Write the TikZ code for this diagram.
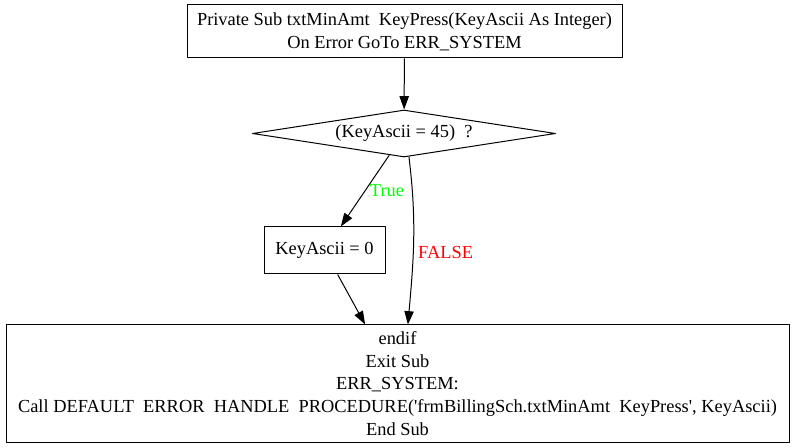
\documentclass[tikz,border=0pt]{standalone}
\usepackage{fontspec}
\setmainfont{Liberation Serif}
\usepackage{tikz}
\usetikzlibrary{shapes.geometric,arrows.meta}

\begin{document}
\begin{tikzpicture}[x=0.75pt, y=-0.75pt, line join=round,
    font=\fontsize{13.8}{17}\selectfont,
    box/.style={draw, line width=0.75pt, align=center, inner sep=0pt},
    test/.style={draw, line width=0.75pt, diamond, shape aspect=6.4, inner sep=0pt},
    flow/.style={line width=0.75pt, -{Triangle[length=10pt,width=7pt]}}]
    \useasboundingbox (0,0) rectangle (795,448);

    % --- blocks ---
    \node[box, minimum width=326.25pt, minimum height=39.75pt] (head) at (404.5,31.5)
      {Private Sub txtMinAmt~ KeyPress(KeyAscii As Integer)\\On Error GoTo ERR\_SYSTEM};
    \node[test, minimum width=227.25pt, minimum height=35.25pt] (cond) at (404,133.5)
      {(KeyAscii = 45)~ ?};
    \node[box, minimum width=90.75pt, minimum height=35.25pt] (zero) at (324.5,250.5)
      {KeyAscii = 0};
    \node[box, minimum width=587.25pt, minimum height=87.75pt] (tail) at (397.5,383.5)
      {endif\\Exit Sub\\ERR\_SYSTEM:\\Call DEFAULT~ ERROR~ HANDLE~ PROCEDURE(\textquotesingle frmBillingSch.txtMinAmt~ KeyPress\textquotesingle, KeyAscii)\\End Sub};

    % --- connectors ---
    \draw[flow] (head) -- (cond);
    \draw[flow] (cond) -- node[right, text=green, pos=0.5] {True} (zero);
    \draw[flow] (cond.-78) to[out=-83, in=85]
      node[right, text=red, pos=0.58] {FALSE} (tail.80);
    \draw[flow] (zero) -- (tail);
  \end{tikzpicture}
\end{document}
